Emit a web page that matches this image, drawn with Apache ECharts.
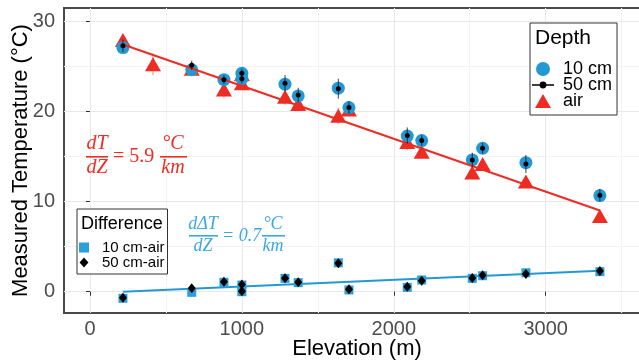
<!DOCTYPE html>
<html>
<head>
<meta charset="utf-8">
<script src="https://cdn.jsdelivr.net/npm/echarts@6/dist/echarts.min.js"></script>
<style>
  html, body { margin: 0; padding: 0; background: #ffffff; }
  #chart { width: 639px; height: 364px; }
</style>
</head>
<body>
<div id="chart"></div>
<script>
// Station elevations (m) and mean temperatures (°C) by measurement depth
const elevSoil = [217, 670, 882, 1000, 1000, 1284, 1371, 1635, 1705, 2089, 2184, 2517, 2585, 2870, 3357];
const temp10cm = [27.05, 24.6, 23.5, 24.2, 23.6, 23.0, 21.7, 22.55, 20.4, 17.25, 16.75, 14.6, 15.9, 14.3, 10.65];
const temp50cm = [27.25, 25.1, 23.5, 24.2, 23.6, 23.1, 21.8, 22.5, 20.4, 17.3, 16.75, 14.6, 15.9, 14.15, 10.7];
const err50cm  = [0.7, 0.5, 0.5, 0.5, 0.5, 0.9, 0.8, 1.1, 0.7, 0.9, 0.6, 0.8, 0.6, 1.0, 0.7];

const elevAir = [217, 415, 670, 882, 1000, 1000, 1284, 1371, 1635, 1705, 2089, 2184, 2517, 2585, 2870, 3357];
const tempAir = [27.9, 25.2, 24.7, 22.4, 24.1, 23.1, 21.6, 20.8, 19.5, 20.2, 16.6, 15.5, 13.2, 14.15, 12.2, 8.4];
const errAir  = [0.6, 1.2, 0.5, 0.9, 0.5, 0.6, 0.9, 0.8, 0.9, 0.7, 0.9, 0.6, 0.8, 0.5, 0.6, 0.6];

// Soil minus air temperature differences (°C)
const diff10cm = [-0.73, -0.07, 1.04, 0.74, 0.0, 1.48, 1.0, 3.2, 0.19, 0.48, 1.3, 1.48, 1.77, 2.1, 2.22];
const diff50cm = [-0.66, 0.37, 1.1, 0.8, 0.05, 1.48, 1.05, 3.14, 0.26, 0.55, 1.22, 1.52, 1.81, 1.96, 2.29];

// Linear fits (end points)
const fitElev = [217, 3357];
const fitAir  = [27.4, 9.0];
const fitDiff = [0.0, 2.33];

// Axis ticks and grid lines
const xTicks = [0, 1000, 2000, 3000];
const xMinor = [500, 1500, 2500, 3500];
const yTicks = [0, 10, 20, 30];
const yMinor = [5, 15, 25];

const RED = '#ee2c23';
const BLUE = '#2299d4';
const LIGHTBLUE = '#3aa9e0';
const SANS = '"Liberation Sans", Arial, sans-serif';
const SERIF = '"Liberation Serif", "DejaVu Serif", serif';

const pairs = (xs, ys) => xs.map((x, i) => [x, ys[i]]);

function errorBars(name, xs, ys, es, color, width, z) {
  return {
    type: 'custom', name, silent: true, z,
    data: xs.map((x, i) => [x, ys[i] - es[i], ys[i] + es[i]]),
    encode: { x: 0, y: [1, 2] },
    renderItem(params, api) {
      const lo = api.coord([api.value(0), api.value(1)]);
      const hi = api.coord([api.value(0), api.value(2)]);
      return { type: 'line', shape: { x1: lo[0], y1: lo[1], x2: hi[0], y2: hi[1] },
               style: { stroke: color, lineWidth: width } };
    }
  };
}

const circlePath = 'path://M7,0A7,7 0 1,1 6.99,0Z';
const trianglePath = 'path://M8,0L16,14L0,14Z';
const dotLinePath = 'path://M0,6.4H16V7.6H0Z M8,4.5A2.5,2.5 0 1,1 7.99,4.5Z';
const squarePath = 'path://M0,0H9V9H0Z';
const diamondPath = 'path://M4,0L8,4.5L4,9L0,4.5Z';

// A stacked fraction: numerator, bar, denominator
function fracText(cx, y, num, den, color, size, barX, barW) {
  return [
    { type: 'text', z: 10, x: cx, y: y - 2, style: { text: num, fill: color, font: `italic ${size}px ${SERIF}`, align: 'center', verticalAlign: 'bottom' } },
    { type: 'rect', z: 10, shape: { x: barX, y: y, width: barW, height: 1.6 }, style: { fill: color } },
    { type: 'text', z: 10, x: cx, y: y + 2, style: { text: den, fill: color, font: `italic ${size}px ${SERIF}`, align: 'center', verticalAlign: 'top' } }
  ];
}

const graphics = [
  ...fracText(97, 156, 'dT', 'dZ', RED, 20, 86, 22),
  { type: 'text', z: 10, x: 113, y: 157, style: { text: '= 5.9', fill: RED, font: `20px ${SERIF}`, verticalAlign: 'middle' } },
  ...fracText(173, 156, '°C', 'km', RED, 20, 160, 27),
  ...fracText(203, 235, 'dΔT', 'dZ', LIGHTBLUE, 18, 189, 29),
  { type: 'text', z: 10, x: 222, y: 236, style: { text: '= 0.7', fill: LIGHTBLUE, font: `italic 18px ${SERIF}`, verticalAlign: 'middle' } },
  ...fracText(273, 235, '°C', 'km', LIGHTBLUE, 18, 262, 23),
  // legend titles
  { type: 'text', x: 535, y: 38, z: 100, style: { text: 'Depth', fill: '#000', font: `21px ${SANS}`, verticalAlign: 'middle' } },
  { type: 'text', x: 81, y: 224, z: 100, style: { text: 'Difference', fill: '#000', font: `18px ${SANS}`, verticalAlign: 'middle' } }
];

const gridLine = (axis, v, color) => ({ [axis]: v, lineStyle: { color, width: 1, type: 'solid' } });
const gridLines = [
  ...xMinor.map(v => gridLine('xAxis', v, '#f3f3f3')),
  ...yMinor.map(v => gridLine('yAxis', v, '#f3f3f3')),
  ...xTicks.map(v => gridLine('xAxis', v, '#e8e8e8')),
  ...yTicks.map(v => gridLine('yAxis', v, '#e8e8e8'))
];

const chart = echarts.init(document.getElementById('chart'), null, { renderer: 'canvas' });

const axisCommon = {
  type: 'value', nameLocation: 'middle', nameMoveOverlap: false,
  nameTextStyle: { fontFamily: SANS, fontSize: 22, color: '#000' },
  axisLine: { show: false },
  splitLine: { show: false },
  minorTick: { show: false },
  minorSplitLine: { show: false }
};

chart.setOption({
  backgroundColor: '#ffffff',
  animation: false,
  grid: {
    left: 64, top: 8, right: -11, bottom: 51, outerBoundsMode: 'none', containLabel: false,
    show: true, borderColor: '#4a4a4a', borderWidth: 2, backgroundColor: 'transparent'
  },
  xAxis: {
    ...axisCommon, min: -171, max: 3687,
    name: 'Elevation (m)', nameGap: 25,
    axisTick: { show: true, length: 4, customValues: xTicks, lineStyle: { color: '#333' } },
    axisLabel: { fontFamily: SANS, fontSize: 20, color: '#4d4d4d', margin: 6, customValues: xTicks, formatter: v => String(v) }
  },
  yAxis: {
    ...axisCommon, min: -2.36, max: 31.44,
    name: 'Measured Temperature (°C)', nameGap: 32,
    axisTick: { show: true, length: 4, customValues: yTicks, lineStyle: { color: '#333' } },
    axisLabel: { fontFamily: SANS, fontSize: 20, color: '#4d4d4d', margin: 9, customValues: yTicks, formatter: v => String(v) }
  },
  legend: [
    {
      orient: 'vertical', left: 530, top: 23, selectedMode: false, z: 20,
      padding: [37, 5, 5, 2], itemWidth: 22, itemHeight: 14, itemGap: -2,
      borderColor: '#333', borderWidth: 1, backgroundColor: '#fff',
      textStyle: { fontFamily: SANS, fontSize: 18, color: '#000', padding: [0, 0, 0, 4] },
      data: [
        { name: '10 cm', icon: circlePath },
        { name: '50 cm', icon: dotLinePath },
        { name: 'air', icon: trianglePath }
      ]
    },
    {
      orient: 'vertical', left: 77, top: 209, selectedMode: false, z: 20,
      padding: [31, 3, 4, 2], itemWidth: 10, itemHeight: 10, itemGap: 0,
      borderColor: '#333', borderWidth: 1, backgroundColor: '#fff',
      textStyle: { fontFamily: SANS, fontSize: 15, color: '#000', padding: [0, 0, 0, 8] },
      data: [
        { name: '10 cm-air', icon: squarePath },
        { name: '50 cm-air', icon: diamondPath }
      ]
    }
  ],
  graphic: graphics,
  series: [
    {
      name: 'grid lines', type: 'line', data: [], z: 0, silent: true,
      markLine: { z: 0, silent: true, symbol: ['none', 'none'], label: { show: false }, animation: false, data: gridLines }
    },
    errorBars('air range', elevAir, tempAir, errAir, 'rgba(238,44,35,0.6)', 1, 2),
    {
      name: 'air', type: 'scatter', z: 3, symbol: 'triangle', symbolSize: [16, 14],
      itemStyle: { color: RED, opacity: 1 }, data: pairs(elevAir, tempAir)
    },
    {
      name: '10 cm', type: 'scatter', z: 4, symbol: 'circle', symbolSize: 13,
      itemStyle: { color: BLUE, opacity: 1 }, data: pairs(elevSoil, temp10cm)
    },
    {
      name: 'air fit', type: 'line', z: 5, symbol: 'none', silent: true,
      lineStyle: { color: RED, width: 2 }, data: pairs(fitElev, fitAir)
    },
    errorBars('50 cm range', elevSoil, temp50cm, err50cm, '#111', 0.8, 6),
    {
      name: '50 cm', type: 'scatter', z: 7, symbol: 'circle', symbolSize: 5,
      itemStyle: { color: '#000', opacity: 1 }, data: pairs(elevSoil, temp50cm)
    },
    {
      name: 'diff fit', type: 'line', z: 3, symbol: 'none', silent: true,
      lineStyle: { color: BLUE, width: 2 }, data: pairs(fitElev, fitDiff)
    },
    {
      name: '10 cm-air', type: 'scatter', z: 4, symbol: 'rect', symbolSize: 9,
      itemStyle: { color: '#29a0d8', opacity: 1 }, data: pairs(elevSoil, diff10cm)
    },
    {
      name: '50 cm-air', type: 'scatter', z: 5, symbol: 'diamond', symbolSize: [8, 10],
      itemStyle: { color: '#000', opacity: 1 }, data: pairs(elevSoil, diff50cm)
    }
  ]
});
</script>
</body>
</html>
